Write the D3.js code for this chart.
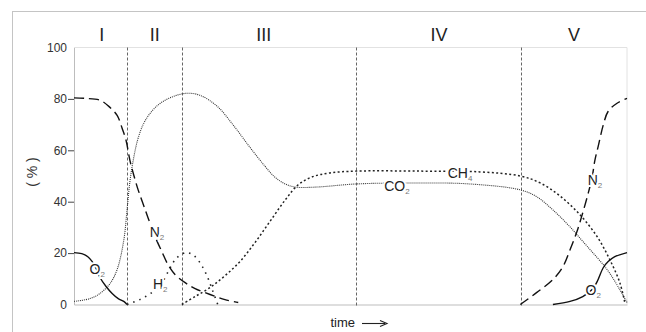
<!DOCTYPE html>
<html>
<head>
<meta charset="utf-8">
<script src="https://cdn.jsdelivr.net/npm/d3@7"></script>
<style>
  body { margin: 0; background: #fff; }
  svg { display: block; font-family: "Liberation Sans", Arial, sans-serif; }
</style>
</head>
<body>
<div id="chart"></div>
<script>
const width = 646;
const height = 332;

// phase boundaries (time units, 0..100)
const phaseBounds = [9.5, 19.5, 51, 80.8];
const phaseNames = ['I', 'II', 'III', 'IV', 'V'];
const phaseCenters = [5, 14.6, 34.3, 66, 90.4];
const yTicks = [0, 20, 40, 60, 80, 100];

// gas curves: [time, percent]
const n2Start = [[0, 80.4], [2, 80.2], [4.7, 79.5], [6.5, 76.7], [7.8, 73.6], [8.7, 68.6], [9.4, 64], [10.1, 56.2], [10.8, 50.4], [11.6, 44.6], [12.5, 39.1], [13.4, 33.7], [14.6, 26.7], [15.9, 20.5], [17, 15.5], [18.3, 11.6], [20.1, 8.5], [21.9, 6.2], [24.6, 3.9], [27.3, 1.9], [29.7, 0.8]];
const o2Start = [[0, 20.2], [1.4, 19.8], [2.5, 18.6], [3.3, 16.7], [4, 14], [4.7, 10.5], [5.8, 7], [6.9, 4.3], [8, 2.3], [9, 1.2], [9.6, 0]];
const co2 = [[0, 1.2], [2.9, 2.3], [4.7, 4.3], [6.5, 8.1], [7.8, 13.6], [9, 25], [9.6, 37], [10.1, 47.7], [10.7, 56], [11.5, 64], [12.5, 70], [13.8, 74.5], [15.6, 78.3], [17.9, 80.9], [20.4, 82.2], [22.8, 81.4], [25.9, 77.1], [28.8, 69.8], [31.8, 61.2], [34.5, 53.9], [36.3, 49.6], [38.2, 46.9], [40, 45.7], [43.9, 45.7], [51, 46.9], [62.6, 47.3], [71.6, 46.9], [80.7, 44.6], [83.7, 41.9], [86.6, 36.8], [89.7, 30.2], [92.8, 22.6], [96.4, 13.6], [98.7, 5.8], [100, 0.8]];
const ch4 = [[19.5, 0], [21.9, 3.1], [24.6, 6.6], [27.3, 11.2], [30, 16.7], [32.7, 24], [35.4, 32.2], [38.2, 40.7], [40.5, 46.5], [43, 49.6], [46.3, 51.2], [51, 51.9], [62.6, 51.9], [73.4, 51.6], [80.7, 50], [84.3, 47.3], [87.9, 42.2], [91.5, 34.9], [94.6, 26.4], [96.9, 17.4], [98.7, 8.5], [99.6, 0.8]];
const h2 = [[9.6, 0], [11.9, 1.9], [14.1, 4.7], [15.9, 8.5], [17.4, 14.3], [18.6, 18.2], [20.3, 20.2], [21.7, 19], [23, 15.5], [24.1, 10.9], [25, 5.8], [26, 0]];
const n2End = [[80.7, 0], [83.7, 4.7], [86.6, 9.7], [88.4, 14.7], [89.7, 21.3], [91, 28.7], [92, 35.7], [92.9, 42.6], [93.7, 49.6], [94.2, 56.2], [94.8, 61.6], [95.7, 69.8], [96.6, 75.2], [98.2, 78.3], [100, 80.2]];
const o2End = [[86.6, 0], [89.7, 1.2], [92, 3.1], [93.7, 5.8], [94.6, 8.9], [95.7, 14.3], [96.6, 16.7], [97.8, 18.6], [100, 20.2]];

// curve labels: [base, subscript, time, percent]
const gasLabels = [
  ['N', '2', 15.0, 28.3],
  ['O', '2', 4.2, 14.0],
  ['H', '2', 15.6, 8.1],
  ['CO', '2', 58.4, 46.1],
  ['CH', '4', 69.8, 51.2],
  ['N', '2', 94.2, 48.4],
  ['O', '2', 93.9, 5.8]
];

const svg = d3.select('#chart')
  .append('svg')
  .attr('width', width)
  .attr('height', height);

const x = d3.scaleLinear().domain([0, 100]).range([74, 627]);
const y = d3.scaleLinear().domain([0, 100]).range([304.5, 47.5]);

// outer frame
svg.append('rect')
  .attr('x', 12.5).attr('y', 11.5)
  .attr('width', 700).attr('height', 400)
  .attr('fill', 'none')
  .attr('stroke', '#c4c4c4');

// plot box top and right edges
svg.append('path')
  .attr('d', `M${x(0)},${y(100)}H${x(100)}V${y(0)}`)
  .attr('fill', 'none')
  .attr('stroke', '#e2e2e2');

// y axis
const yAxis = svg.append('g')
  .attr('transform', `translate(${x(0)},0)`)
  .call(d3.axisLeft(y).tickValues(yTicks).tickSize(6).tickSizeOuter(0).tickPadding(1));
yAxis.select('.domain').attr('stroke', '#bdbdbd');
yAxis.selectAll('.tick line')
  .attr('stroke', '#444')
  .attr('opacity', d => (d === 0 || d === 100) ? 0 : 1);
yAxis.selectAll('.tick text')
  .attr('font-size', 12)
  .attr('fill', '#333')
  .attr('font-family', '"Liberation Sans", Arial, sans-serif');

// x axis (line only)
const xAxis = svg.append('g')
  .attr('transform', `translate(0,${y(0)})`)
  .call(d3.axisBottom(x).tickValues([]).tickSizeOuter(0));
xAxis.select('.domain').attr('stroke', '#bdbdbd');

// phase separators
svg.selectAll('.phase-line')
  .data(phaseBounds)
  .join('line')
  .attr('class', 'phase-line')
  .attr('x1', d => Math.round(x(d)) + 0.5)
  .attr('x2', d => Math.round(x(d)) + 0.5)
  .attr('y1', y(100))
  .attr('y2', y(0) + 2)
  .attr('stroke', '#666')
  .attr('stroke-width', 1)
  .attr('stroke-dasharray', '3,2');

// phase names
svg.selectAll('.phase-name')
  .data(phaseNames)
  .join('text')
  .attr('class', 'phase-name')
  .attr('x', (d, i) => x(phaseCenters[i]))
  .attr('y', 41)
  .attr('text-anchor', 'middle')
  .attr('font-size', 18)
  .attr('fill', '#222')
  .text(d => d);

// curves
const line = d3.line()
  .x(d => x(d[0]))
  .y(d => y(d[1]))
  .curve(d3.curveCatmullRom.alpha(0.5));

const series = [
  {data: co2, dash: '1,1', width: 1.1, color: '#333'},
  {data: ch4, dash: '2,2.4', width: 1.5, color: '#222'},
  {data: h2, dash: '1.5,5', width: 1.6, color: '#222'},
  {data: n2Start, dash: '10,5', width: 1.4, color: '#111'},
  {data: n2End, dash: '10,5', width: 1.4, color: '#111'},
  {data: o2Start, dash: null, width: 1.4, color: '#111'},
  {data: o2End, dash: null, width: 1.4, color: '#111'}
];

svg.selectAll('.gas')
  .data(series)
  .join('path')
  .attr('class', 'gas')
  .attr('fill', 'none')
  .attr('stroke', d => d.color)
  .attr('stroke-width', d => d.width)
  .attr('stroke-dasharray', d => d.dash)
  .attr('d', d => line(d.data));

// gas labels
const lbl = svg.selectAll('.gas-label')
  .data(gasLabels)
  .join('text')
  .attr('class', 'gas-label')
  .attr('x', d => x(d[2]))
  .attr('y', d => y(d[3]) + 5)
  .attr('text-anchor', 'middle')
  .attr('font-size', 14)
  .attr('fill', '#222')
  .attr('stroke', '#fff')
  .attr('stroke-width', 4)
  .attr('paint-order', 'stroke');
lbl.append('tspan').text(d => d[0]);
lbl.append('tspan')
  .attr('font-size', 8)
  .attr('dy', 3)
  .attr('fill', '#777')
  .text(d => d[1]);

// y label
svg.append('text')
  .attr('transform', 'translate(37,172) rotate(-90)')
  .attr('text-anchor', 'middle')
  .attr('font-size', 14)
  .attr('fill', '#333')
  .text('( % )');

// time label with arrow
svg.append('text')
  .attr('x', 355)
  .attr('y', 327)
  .attr('text-anchor', 'end')
  .attr('font-size', 13)
  .attr('fill', '#222')
  .text('time');

svg.append('line')
  .attr('x1', 362).attr('x2', 385)
  .attr('y1', 323.5).attr('y2', 323.5)
  .attr('stroke', '#222')
  .attr('stroke-width', 1.1);
svg.append('path')
  .attr('d', 'M380,320.5L387,323.5L380,326.5')
  .attr('fill', 'none')
  .attr('stroke', '#222')
  .attr('stroke-width', 1.1);
</script>
</body>
</html>
